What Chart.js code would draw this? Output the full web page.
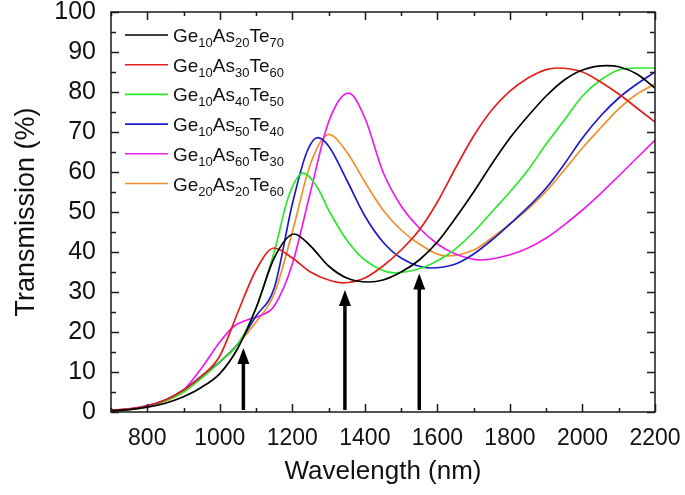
<!DOCTYPE html>
<html>
<head>
<meta charset="utf-8">
<script src="https://cdn.jsdelivr.net/npm/chart.js@4.4.1/dist/chart.umd.min.js"></script>
<style>
html,body{margin:0;padding:0;background:#fff;}
canvas{display:block;}
</style>
</head>
<body>
<canvas id="c" width="685" height="495"></canvas>
<script>
// ---- data ----
const seriesNames = ['Ge10As20Te70','Ge10As30Te60','Ge10As40Te50','Ge10As50Te40','Ge10As60Te30','Ge20As20Te60'];
const formulaParts = [
  [['Ge','10'],['As','20'],['Te','70']],
  [['Ge','10'],['As','30'],['Te','60']],
  [['Ge','10'],['As','40'],['Te','50']],
  [['Ge','10'],['As','50'],['Te','40']],
  [['Ge','10'],['As','60'],['Te','30']],
  [['Ge','20'],['As','20'],['Te','60']]
];
const seriesColors = ['#000000','#e0201c','#2ee62e','#1c1cc8','#ee1cee','#f0902c'];

const blackWl = [700,750,800,850,900,950,1000,1050,1100,1150,1205,1250,1300,1350,1410,1450,1500,1550,1600,1650,1700,1750,1800,1850,1900,1950,2000,2068,2100,2150,2200];
const blackT  = [0.3,0.6,1.2,2.2,3.8,6.2,9.6,16,26,38.5,44.5,41.5,36.5,33.5,32.5,33,35,38,42.5,48.5,55,62,68.5,74,79,83,85.5,86.6,86.3,84.5,81];

const redWl = [700,750,800,850,900,950,1000,1050,1100,1150,1200,1250,1300,1340,1400,1450,1500,1550,1600,1650,1700,1750,1800,1850,1900,1930,2000,2050,2100,2150,2200];
const redT  = [0.4,0.8,1.5,3,5.5,9,14,25,35.5,41,38.5,35,33,32.3,33.5,36.5,40.5,45.5,52.5,61,69,75.5,80.2,83.5,85.6,86,85,82.5,79.5,76,72.5];

const greenWl = [700,750,800,850,900,950,1000,1050,1100,1150,1190,1230,1270,1300,1350,1400,1480,1550,1600,1650,1700,1750,1800,1850,1900,1950,2000,2050,2100,2150,2200];
const greenT  = [0.3,0.7,1.4,2.8,5,8.5,12.5,17,26,40,54,59.7,56,50.5,43,38,34.8,35.8,37.8,40.8,45,50,55,60.5,67,73,79,83,85.5,86,86];

const blueWl = [700,750,800,850,900,950,1000,1050,1100,1150,1200,1240,1270,1300,1350,1400,1450,1500,1580,1650,1700,1750,1800,1850,1900,1950,2000,2050,2100,2150,2200];
const blueT  = [0.3,0.7,1.5,3,5.5,9,12.5,17,24,31,52,65,68.6,66.5,58,49,42.5,38.5,36,37,39.5,43,47,51.2,56,62,68.5,74,78.5,82,85];

const magentaWl = [700,750,800,850,900,950,1000,1040,1075,1110,1150,1200,1250,1300,1355,1400,1450,1500,1550,1600,1650,1720,1800,1850,1900,1950,2000,2050,2100,2150,2200];
const magentaT  = [0.4,0.8,1.6,3,5.5,11,17.5,21.5,23,24,26.5,37,55,72.5,79.7,73.5,60,51.5,46,42,39.5,38,39.3,41,43.5,46.8,50.5,54.6,59,63.5,68];

const orangeWl = [700,750,800,850,900,950,1000,1050,1100,1150,1200,1250,1300,1350,1400,1450,1500,1550,1625,1700,1750,1800,1850,1900,1950,2000,2050,2100,2150,2200];
const orangeT  = [0.3,0.6,1.3,2.7,5,8.5,12.5,17,22.5,29.5,45,62,69.4,65,57.5,50.5,45.5,42,39,40.5,43.5,47,50.8,55.2,60.5,66,71,75.8,79.5,82];

const xTickLabels = [800,1000,1200,1400,1600,1800,2000,2200];
const yTickLabels = [0,10,20,30,40,50,60,70,80,90,100];

const arrowWl  = [1065,1345,1550];
const arrowTip = [16,30.5,34.6];
const arrowBase = 0.5;

// ---- build ----
const wlLists = [blackWl, redWl, greenWl, blueWl, magentaWl, orangeWl];
const tLists  = [blackT, redT, greenT, blueT, magentaT, orangeT];
const FONT = '"Liberation Sans", Arial, Helvetica, sans-serif';

const datasets = seriesNames.map((name, i) => ({
  label: name,
  data: wlLists[i].map((w, k) => ({x: w, y: tLists[i][k]})),
  borderColor: seriesColors[i],
  backgroundColor: seriesColors[i],
  borderWidth: 1.7,
  pointRadius: 0,
  cubicInterpolationMode: 'monotone',
  fill: false
}));

const frameTicks = {
  id: 'frameTicks',
  afterDatasetsDraw(chart) {
    const {ctx, chartArea: {left, right, top, bottom}, scales: {x, y}} = chart;
    ctx.save();
    ctx.strokeStyle = '#1a1a1a';
    ctx.lineWidth = 1.5;
    ctx.strokeRect(left, top, right - left, bottom - top);
    ctx.beginPath();
    for (let v = 700; v <= 2200; v += 100) {
      const px = Math.round(x.getPixelForValue(v)) + 0.5;
      const len = (v % 200 === 0) ? 8 : 4;
      ctx.moveTo(px, bottom); ctx.lineTo(px, bottom - len);
      ctx.moveTo(px, top); ctx.lineTo(px, top + len);
    }
    for (let v = 0; v <= 100; v += 5) {
      const py = Math.round(y.getPixelForValue(v)) + 0.5;
      const len = (v % 10 === 0) ? 8 : 5;
      ctx.moveTo(left, py); ctx.lineTo(left + len, py);
      ctx.moveTo(right, py); ctx.lineTo(right - len, py);
    }
    ctx.stroke();

    // arrows
    ctx.fillStyle = '#000';
    ctx.strokeStyle = '#000';
    arrowWl.forEach((w, i) => {
      const px = x.getPixelForValue(w);
      const yb = y.getPixelForValue(arrowBase);
      const yt = y.getPixelForValue(arrowTip[i]);
      const headH = 16, headW = 6;
      ctx.lineWidth = 3.5;
      ctx.beginPath();
      ctx.moveTo(px, yb); ctx.lineTo(px, yt + headH - 2);
      ctx.stroke();
      ctx.beginPath();
      ctx.moveTo(px, yt);
      ctx.lineTo(px - headW, yt + headH);
      ctx.lineTo(px + headW, yt + headH);
      ctx.closePath();
      ctx.fill();
    });

    // legend with subscripts
    const lineX0 = left + 14, lineX1 = left + 57, textX = left + 62;
    formulaParts.forEach((parts, i) => {
      const cy = top + 23 + i * 29.7;
      ctx.strokeStyle = seriesColors[i];
      ctx.lineWidth = 1.6;
      ctx.beginPath(); ctx.moveTo(lineX0, cy); ctx.lineTo(lineX1, cy); ctx.stroke();
      let tx = textX;
      const base = cy + 7;
      ctx.fillStyle = '#111';
      ctx.textBaseline = 'alphabetic';
      ctx.textAlign = 'left';
      parts.forEach(([el, sub]) => {
        ctx.font = '19px ' + FONT;
        ctx.fillText(el, tx, base);
        tx += ctx.measureText(el).width;
        ctx.font = '13px ' + FONT;
        ctx.fillText(sub, tx, base + 5);
        tx += ctx.measureText(sub).width;
      });
    });
    ctx.restore();
  }
};

new Chart(document.getElementById('c'), {
  type: 'line',
  data: {datasets},
  plugins: [frameTicks],
  options: {
    responsive: false,
    animation: false,
    devicePixelRatio: 1,
    layout: {padding: {top: 12, right: 30, left: 0, bottom: 0}},
    plugins: {legend: {display: false}, tooltip: {enabled: false}},
    scales: {
      x: {
        type: 'linear', position: 'bottom', min: 700, max: 2200,
        grid: {display: false, drawTicks: false},
        border: {display: false},
        afterBuildTicks: s => { s.ticks = xTickLabels.map(v => ({value: v})); },
        afterFit: s => { s.height = 83; s.paddingLeft = 0; s.paddingRight = 0; },
        ticks: {color: '#111', padding: 13, maxRotation: 0, autoSkip: false, callback: v => String(v), font: {family: FONT, size: 23}},
        title: {display: true, text: 'Wavelength (nm)', color: '#111', font: {family: FONT, size: 26}, padding: {top: 0, bottom: 8}}
      },
      y: {
        type: 'linear', min: 0, max: 100,
        grid: {display: false, drawTicks: false},
        border: {display: false},
        afterBuildTicks: s => { s.ticks = yTickLabels.map(v => ({value: v})); },
        afterFit: s => { s.width = 111; s.paddingTop = 0; s.paddingBottom = 0; },
        ticks: {color: '#111', padding: 15, autoSkip: false, callback: v => String(v), font: {family: FONT, size: 25}},
        title: {display: true, text: 'Transmission (%)', color: '#111', font: {family: FONT, size: 27}, padding: {top: 10, bottom: 0}}
      }
    }
  }
});
</script>
</body>
</html>
